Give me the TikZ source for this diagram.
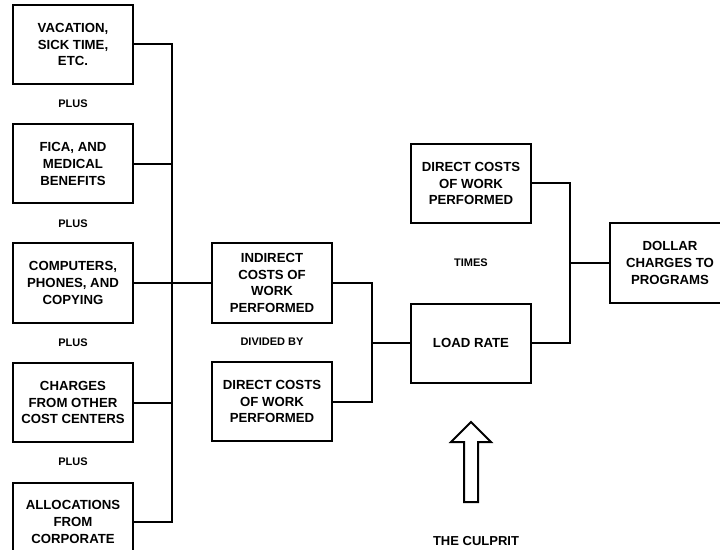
\documentclass[tikz,border=0pt]{standalone}
\usepackage{fontspec}
\setmainfont{Liberation Sans}
\begin{document}
\begin{tikzpicture}[x=1bp,y=-1bp,line width=2bp,
    costbox/.style={draw,minimum width=120bp,minimum height=79bp,align=center,
      font=\bfseries\fontsize{13.2bp}{16.7bp}\selectfont,inner sep=0pt},
    oplabel/.style={font=\bfseries\fontsize{11bp}{13bp}\selectfont,inner sep=0pt}]
    \useasboundingbox (0,0) rectangle (720,550);
    \node[costbox] (vac) at (73,44.5) {VACATION,\\SICK TIME,\\ETC.};
    \node[costbox] (fica) at (73,164) {FICA, AND\\MEDICAL\\BENEFITS};
    \node[costbox] (comp) at (73,283) {COMPUTERS,\\PHONES, AND\\COPYING};
    \node[costbox] (other) at (73,402.5) {CHARGES\\FROM OTHER\\COST CENTERS};
    \node[costbox] (alloc) at (73,522) {ALLOCATIONS\\FROM\\CORPORATE};
    \node[oplabel] (plusa) at (73,104) {PLUS};
    \node[oplabel] (plusb) at (73,223.5) {PLUS};
    \node[oplabel] (plusc) at (73,343) {PLUS};
    \node[oplabel] (plusd) at (73,462) {PLUS};
    \node[costbox] (indirect) at (272,283) {INDIRECT\\COSTS OF\\WORK\\PERFORMED};
    \node[costbox] (direct) at (272,401.5) {DIRECT COSTS\\OF WORK\\PERFORMED};
    \node[oplabel] (divby) at (272,342) {DIVIDED BY};
    \node[costbox] (topdirect) at (471,183.5) {DIRECT COSTS\\OF WORK\\PERFORMED};
    \node[costbox] (load) at (471,343) {LOAD RATE};
    \node[oplabel] (times) at (471,263) {TIMES};
    \node[costbox] (dollar) at (670,263) {DOLLAR\\CHARGES TO\\PROGRAMS};
    \node[oplabel,font=\bfseries\fontsize{13bp}{15bp}\selectfont] (culprit) at (476,541) {THE CULPRIT};
    \coordinate (busa) at (172,44.5);
    \coordinate (busb) at (172,522);
    \coordinate (jm) at (372,343);
    \coordinate (jr) at (570,263);
    \draw (vac.east) -- (busa) -- (busb) -- (alloc.east);
    \draw (fica.east) -- (fica.east -| busa);
    \draw (other.east) -- (other.east -| busa);
    \draw (comp.east) -- (indirect.west);
    \draw (indirect.east) -| (jm) |- (direct.east);
    \draw (jm) -- (load.west);
    \draw (topdirect.east) -| (jr) |- (load.east);
    \draw (jr) -- (dollar.west);
    \draw[line join=miter] (471,422) -- (491,442) -- (478,442) -- (478,502)
      -- (464,502) -- (464,442) -- (451,442) -- cycle;
\end{tikzpicture}
\end{document}
